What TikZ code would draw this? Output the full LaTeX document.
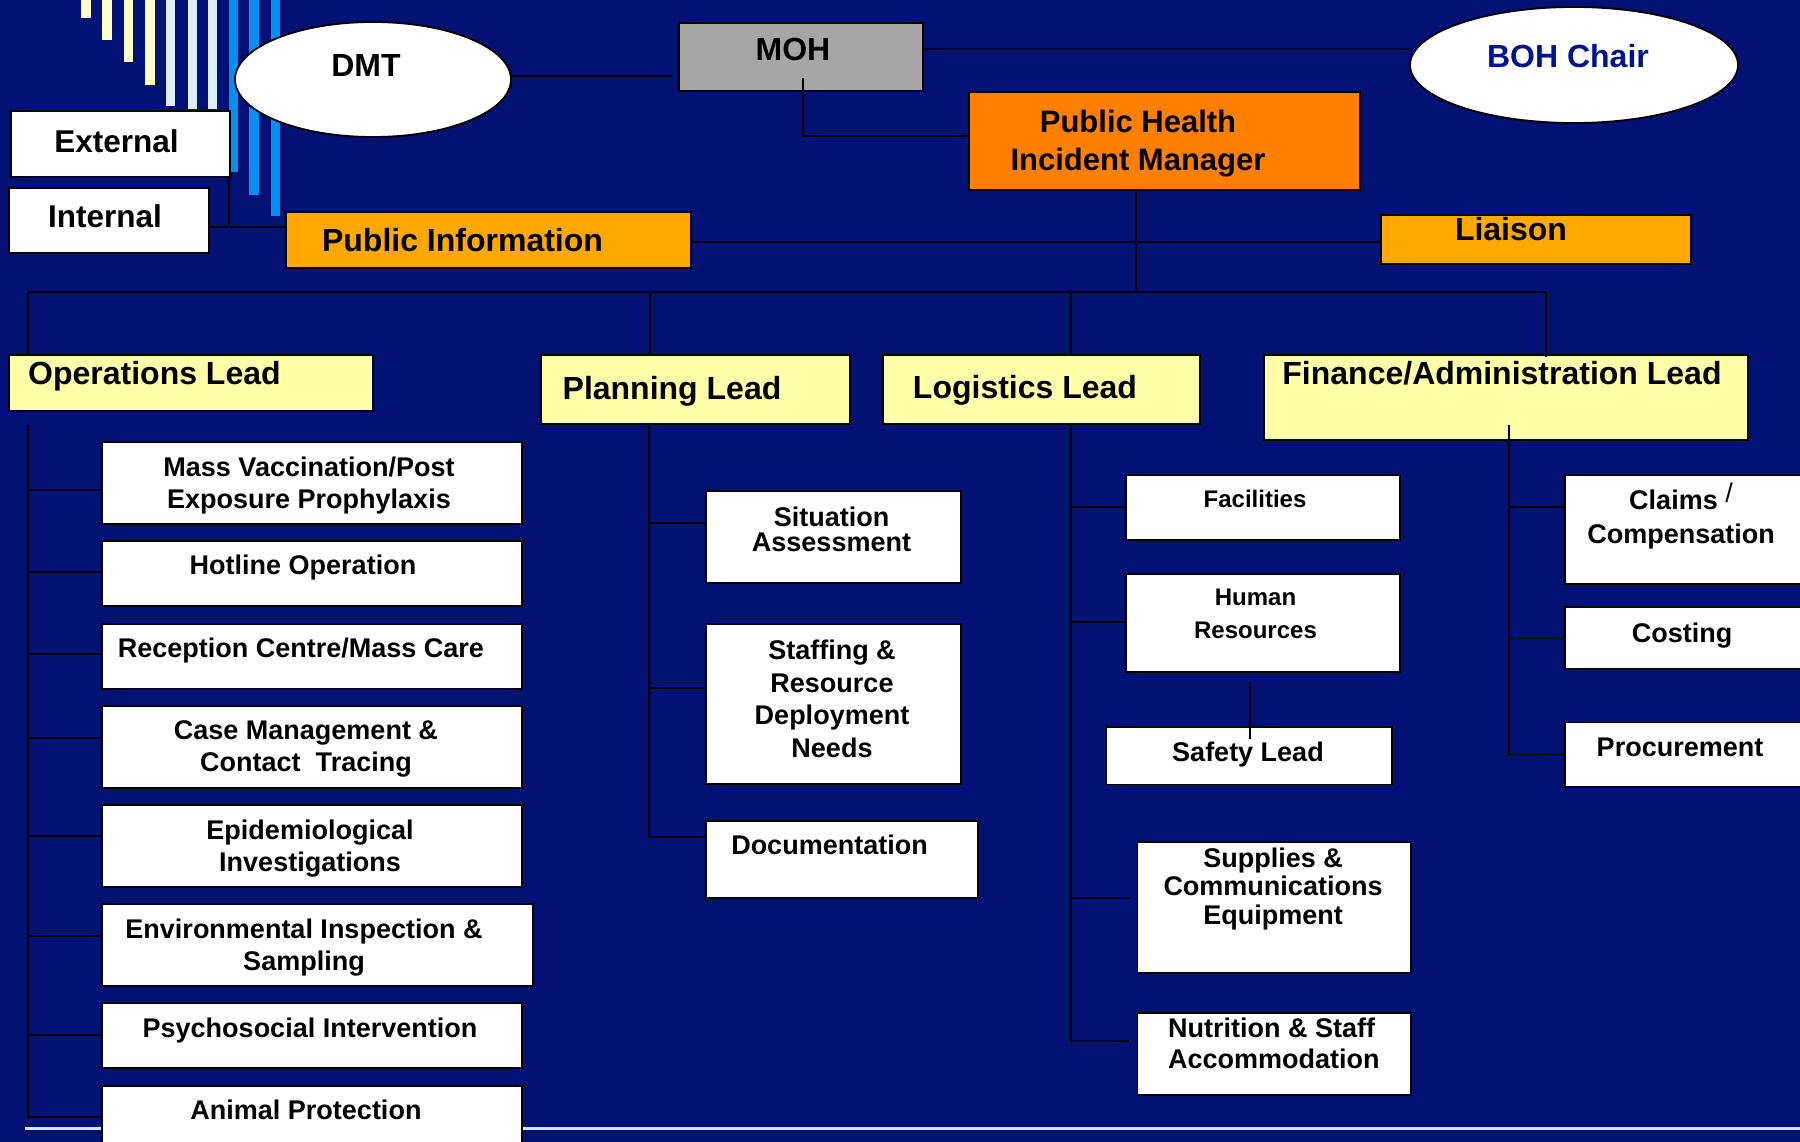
\documentclass[tikz,border=0pt]{standalone}
\usepackage{fontspec}
\setmainfont{Liberation Sans}
\usetikzlibrary{shapes.geometric}
\definecolor{bg}{RGB}{2,17,115}
\definecolor{leadyel}{RGB}{255,255,170}
\definecolor{amber}{RGB}{255,168,0}
\definecolor{deeporange}{RGB}{255,128,0}
\definecolor{mohgray}{RGB}{166,166,166}
\definecolor{navytext}{RGB}{0,18,140}
\definecolor{stripeyel}{RGB}{255,255,204}
\definecolor{stripepale}{RGB}{220,238,255}
\definecolor{stripeblue}{RGB}{0,145,240}
\definecolor{rulecol}{RGB}{215,228,255}
\tikzset{
  bx/.style={draw=black, line width=1.8pt, inner sep=0pt, anchor=north west},
  wbox/.style={bx, fill=white},
  leadbox/.style={bx, fill=leadyel},
  ambox/.style={bx, fill=amber},
  oval/.style={ellipse, draw=black, line width=1.8pt, fill=white, inner sep=0pt},
  conn/.style={draw=black, line width=1.8pt},
  big/.style={inner sep=0pt, anchor=base, align=center, font=\bfseries\fontsize{32}{38.5}\selectfont},
  mid/.style={inner sep=0pt, anchor=base, align=center, font=\bfseries\fontsize{27}{32.5}\selectfont},
  small/.style={inner sep=0pt, anchor=base, align=center, font=\bfseries\fontsize{24}{32.4}\selectfont},
}
\begin{document}
\begin{tikzpicture}[x=1pt,y=-1pt]
\useasboundingbox (0,0) rectangle (1800,1142);
\fill[bg] (0,0) rectangle (1800,1142);

% decorative stripes
\fill[stripeyel] (80.8,-5) rectangle (91.1,18);
\fill[stripeyel] (102.2,-5) rectangle (112,40);
\fill[stripeyel] (124.1,-5) rectangle (133,61.7);
\fill[stripeyel] (145,-5) rectangle (155,85);
\fill[stripepale] (166,-5) rectangle (175,106);
\fill[stripepale] (188,-5) rectangle (197,109.3);
\fill[stripepale] (208,-5) rectangle (217,109.3);
\fill[stripeblue] (229,-5) rectangle (238,171.7);
\fill[stripeblue] (249,-5) rectangle (259,195);
\fill[stripeblue] (271,-5) rectangle (280,216);

% bottom rule
\draw[draw=rulecol, line width=3pt] (25,1128) -- (1800,1128);

% top section
\node[wbox, minimum width=219pt, minimum height=66pt] (external) at (10,110) {};
\node[big, font=\bfseries\fontsize{31.5}{38}\selectfont] (externalT) at (116.5,152.5) {External};
\node[wbox, minimum width=200pt, minimum height=65pt] (internal) at (8,187) {};
\node[big, font=\bfseries\fontsize{31.5}{38}\selectfont] (internalT) at (105,227.5) {Internal};
\node[oval, minimum width=276pt, minimum height=115pt] (dmt) at (373,79.5) {};
\node[big] (dmtT) at (366,77) {DMT};
\node[bx, fill=mohgray, minimum width=244pt, minimum height=68pt] (moh) at (678,22) {};
\node[big] (mohT) at (793,61) {MOH};
\node[oval, minimum width=328pt, minimum height=116pt] (boh) at (1574,65) {};
\node[big, text=navytext] (bohT) at (1568,68) {BOH Chair};
\node[bx, fill=deeporange, minimum width=391pt, minimum height=98pt] (phim) at (968,91) {};
\node[big, font=\bfseries\fontsize{31}{38.5}\selectfont] (phimT) at (1138,171) {Public Health\\Incident Manager};
\node[ambox, minimum width=405pt, minimum height=56pt] (pubinfo) at (285,211) {};
\node[big] (pubinfoT) at (462.5,252) {Public Information};
\node[ambox, minimum width=310pt, minimum height=49pt] (liaison) at (1380,214) {};
\node[big] (liaisonT) at (1511,241) {Liaison};

% top connectors
\coordinate (dmtEnd) at (672,76);
\draw[conn] (dmtEnd -| dmt.east) -- (dmtEnd);
\coordinate (mb) at (0,49);
\draw[conn] (mb -| moh.east) -- (mb -| boh.west);
\coordinate (mohIn) at (803,78);
\coordinate (mp) at (803,136);
\draw[conn] (mohIn) -- (mp) -- (mp -| phim.west);
\coordinate (hub) at (1136,292);
\draw[conn] (hub |- phim.south) -- (hub);
\coordinate (pl) at (0,242);
\draw[conn] (pl -| pubinfo.east) -- (pl -| liaison.west);
\coordinate (ei) at (229,227);
\draw[conn] (ei |- external.south) -- (ei);
\draw[conn] (ei -| internal.east) -- (ei -| pubinfo.west);

% lead boxes
\node[leadbox, minimum width=364pt, minimum height=56pt] (ops) at (8,354) {};
\node[big, anchor=base west] (opsT) at (28,384.6) {Operations Lead};
\node[leadbox, minimum width=309pt, minimum height=69pt] (planning) at (540,354) {};
\node[big] (planningT) at (672,399.6) {Planning Lead};
\node[leadbox, minimum width=317pt, minimum height=69pt] (logistics) at (882,354) {};
\node[big] (logisticsT) at (1025,398.7) {Logistics Lead};
\node[leadbox, minimum width=484pt, minimum height=85pt] (finance) at (1263,354) {};
\node[big] (financeT) at (1502,384) {Finance/Administration Lead};

% main bus
\coordinate (tO) at (28,292);
\coordinate (tP) at (650,292);
\coordinate (tL) at (1071,292);
\coordinate (tF) at (1546,292);
\draw[conn] (tO) -- (tF);
\draw[conn] (tO) -- (tO |- ops.north);
\draw[conn] (tP) -- (tP |- planning.north);
\draw[conn] (tL) -- (tL |- logistics.north);
\draw[conn] (tF) -- ([yshift=-3pt]tF |- finance.north);

% operations column
\node[wbox, minimum width=420pt, minimum height=82pt] (mv) at (101,441) {};
\node[mid] (mvT) at (309,508.5) {Mass Vaccination/Post\\Exposure Prophylaxis};
\node[wbox, minimum width=420pt, minimum height=65pt] (hot) at (101,540) {};
\node[mid] (hotT) at (303,574.3) {Hotline Operation};
\node[wbox, minimum width=420pt, minimum height=65pt] (rec) at (101,623) {};
\node[mid] (recT) at (301,657.6) {Reception Centre/Mass Care};
\node[wbox, minimum width=420pt, minimum height=82pt] (case) at (101,705) {};
\node[mid] (caseT) at (306,771.8) {Case Management \&\\Contact\ \ Tracing};
\node[wbox, minimum width=420pt, minimum height=82pt] (epi) at (101,804) {};
\node[mid] (epiT) at (310,871.5) {Epidemiological\\Investigations};
\node[wbox, minimum width=431pt, minimum height=82pt] (env) at (101,903) {};
\node[mid] (envT) at (304,970.5) {Environmental Inspection \&\\Sampling};
\node[wbox, minimum width=420pt, minimum height=65pt] (psy) at (101,1002) {};
\node[mid] (psyT) at (310,1037) {Psychosocial Intervention};
\node[wbox, minimum width=420pt, minimum height=75pt] (animal) at (101,1085) {};
\node[mid] (animalT) at (306,1119.3) {Animal Protection};

\coordinate (oT) at (28,425);
\coordinate (o1) at (28,490);
\coordinate (o2) at (28,572);
\coordinate (o3) at (28,654);
\coordinate (o4) at (28,738);
\coordinate (o5) at (28,836);
\coordinate (o6) at (28,936);
\coordinate (o7) at (28,1035);
\coordinate (o8) at (28,1117);
\draw[conn] (oT) -- (o8);
\draw[conn] (o1) -- (o1 -| mv.west);
\draw[conn] (o2) -- (o2 -| hot.west);
\draw[conn] (o3) -- (o3 -| rec.west);
\draw[conn] (o4) -- (o4 -| case.west);
\draw[conn] (o5) -- (o5 -| epi.west);
\draw[conn] (o6) -- (o6 -| env.west);
\draw[conn] (o7) -- (o7 -| psy.west);
\draw[conn] (o8) -- (o8 -| animal.west);

% planning column
\node[wbox, minimum width=255pt, minimum height=92pt] (sit) at (705,490) {};
\node[mid, font=\bfseries\fontsize{27}{25}\selectfont] (sitT) at (831.5,551) {Situation\\Assessment};
\node[wbox, minimum width=255pt, minimum height=160pt] (staff) at (705,623) {};
\node[mid, font=\bfseries\fontsize{27}{32.8}\selectfont] (staffT) at (832,757.7) {Staffing \&\\Resource\\Deployment\\Needs};
\node[wbox, minimum width=272pt, minimum height=77pt] (doc) at (705,820) {};
\node[mid] (docT) at (829.5,854.3) {Documentation};

\coordinate (pT) at (649,425);
\coordinate (p1) at (649,522.7);
\coordinate (p2) at (649,688.3);
\coordinate (p3) at (649,836.7);
\draw[conn] (pT) -- (p3);
\draw[conn] (p1) -- (p1 -| sit.west);
\draw[conn] (p2) -- (p2 -| staff.west);
\draw[conn] (p3) -- (p3 -| doc.west);

% logistics column
\node[wbox, minimum width=274pt, minimum height=65pt] (fac) at (1125,474) {};
\node[small] (facT) at (1255,507) {Facilities};
\node[wbox, minimum width=274pt, minimum height=98pt] (hr) at (1125,573) {};
\node[small] (hrT) at (1255.5,638.2) {Human\\Resources};
\node[wbox, minimum width=285.5pt, minimum height=57.5pt] (safety) at (1105.5,726) {};
\node[mid] (safetyT) at (1248,761.2) {Safety Lead};
\node[wbox, minimum width=273.5pt, minimum height=131pt] (sup) at (1136.5,841) {};
\node[mid, font=\bfseries\fontsize{27}{28.3}\selectfont] (supT) at (1273,924) {Supplies \&\\Communications\\Equipment};
\node[wbox, minimum width=273.5pt, minimum height=82pt] (nut) at (1136.5,1012) {};
\node[mid, align=left, anchor=base west, font=\bfseries\fontsize{27}{30.7}\selectfont] (nutT) at (1168,1068.4) {Nutrition \& Staff\\Accommodation};

\coordinate (lT) at (1071,424.5);
\coordinate (l1) at (1071,507);
\coordinate (l2) at (1071,622);
\coordinate (l3) at (1071,898);
\coordinate (l4) at (1071,1041);
\draw[conn] (lT) -- (l4);
\draw[conn] (l1) -- (l1 -| fac.west);
\draw[conn] (l2) -- (l2 -| hr.west);
\draw[conn] (l3) -- ([xshift=-8pt]l3 -| sup.west);
\draw[conn] (l4) -- ([xshift=-8pt]l4 -| nut.west);
\coordinate (hs) at (1249.6,0);
\draw[conn] ([yshift=-9pt]hs |- hr.south) -- ([yshift=-12.5pt]hs |- safety.north);

% finance column
\node[wbox, minimum width=260pt, minimum height=109pt] (claims) at (1564,474) {};
\node[mid, font=\bfseries\fontsize{27}{34.3}\selectfont] (claimsT) at (1681,543.3) {Claims \raisebox{7pt}{\mdseries/}\\Compensation};
\node[wbox, minimum width=260pt, minimum height=62pt] (costing) at (1564,606) {};
\node[mid] (costingT) at (1682,642) {Costing};
\node[wbox, minimum width=260pt, minimum height=64.5pt] (proc) at (1564,721.5) {};
\node[mid] (procT) at (1680,756) {Procurement};

\coordinate (fT) at (1509,424.5);
\coordinate (f1) at (1509,507);
\coordinate (f2) at (1509,638.4);
\coordinate (f3) at (1509,754.5);
\draw[conn] (fT) -- (f3);
\draw[conn] (f1) -- (f1 -| claims.west);
\draw[conn] (f2) -- (f2 -| costing.west);
\draw[conn] (f3) -- (f3 -| proc.west);
\end{tikzpicture}
\end{document}
